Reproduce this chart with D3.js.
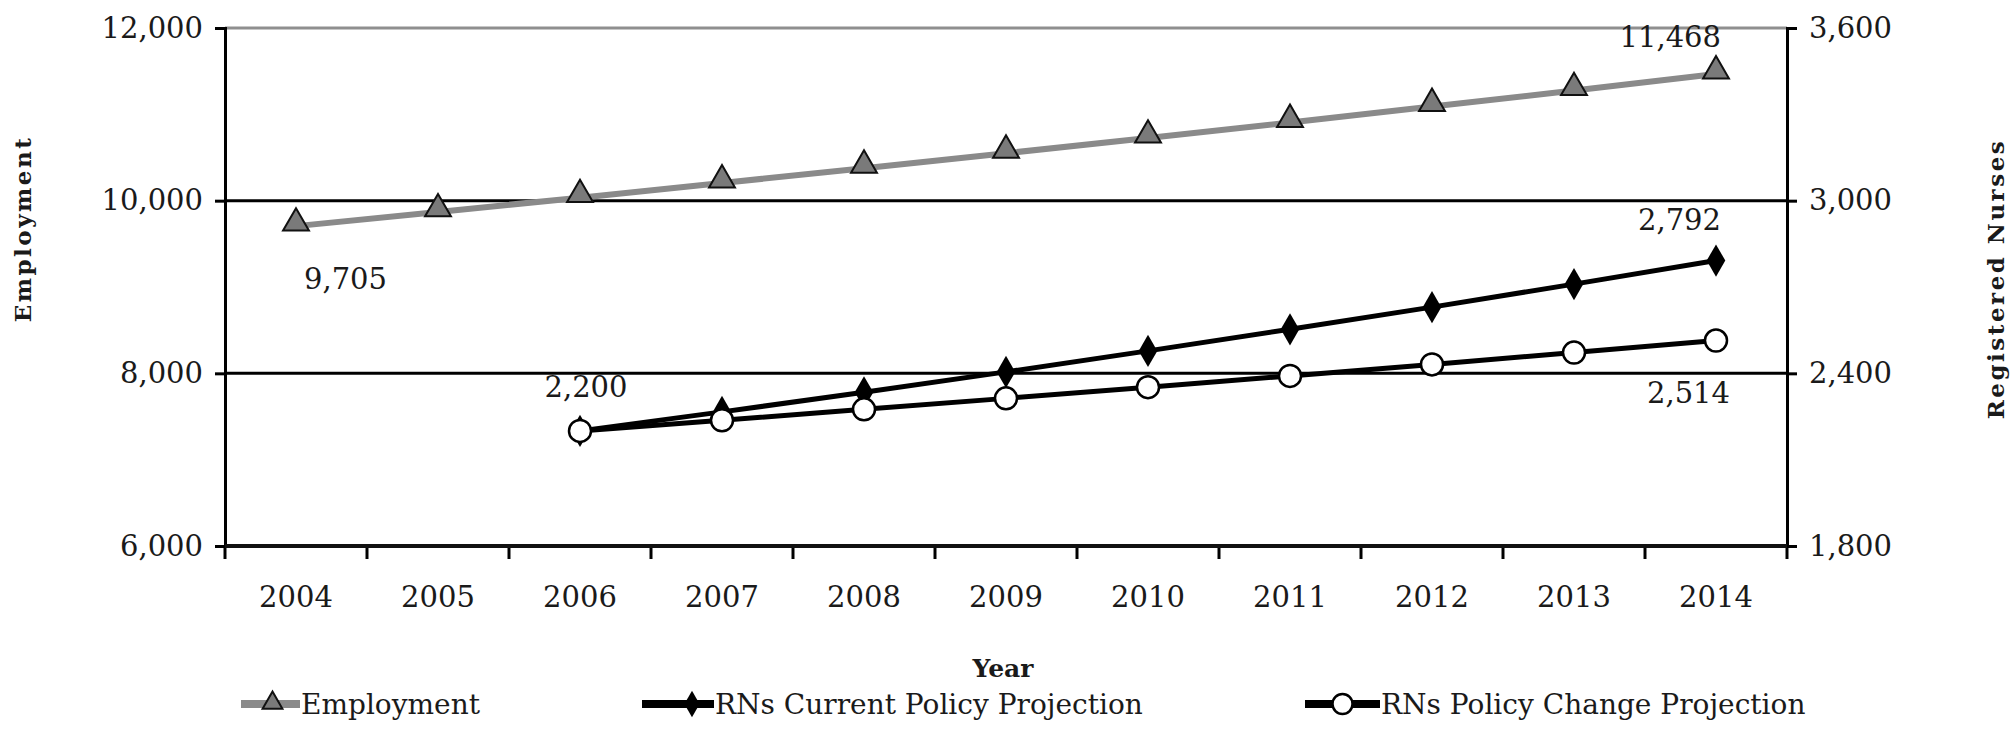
<!DOCTYPE html>
<html>
<head>
<meta charset="utf-8">
<script src="https://cdn.jsdelivr.net/npm/d3@7"></script>
<style>
  html, body { margin: 0; padding: 0; background: #fff; }
  svg { display: block; }
  text { font-family: "DejaVu Serif", serif; fill: #1a1a1a; }
</style>
</head>
<body>
<svg id="chart" width="2012" height="755"></svg>
<script>
// Years on the category axis
const years = ["2004","2005","2006","2007","2008","2009","2010","2011","2012","2013","2014"];

// Total employment (left axis)
const employment = [9705, 9870, 10035, 10205, 10375, 10550, 10725, 10905, 11090, 11275, 11468];

// Registered nurse projections (right axis), starting in 2006
const rnYears = ["2006","2007","2008","2009","2010","2011","2012","2013","2014"];
const rnCurrent = [2200, 2266, 2334, 2405, 2478, 2553, 2630, 2710, 2792];
const rnChange  = [2200, 2237, 2275, 2313, 2352, 2391, 2431, 2472, 2514];

// Axis ticks
const leftTicks  = [6000, 8000, 10000, 12000];
const rightTicks = [1800, 2400, 3000, 3600];

const svg = d3.select("#chart");
const fmt = d3.format(",");
const TICK_FONT = 29;

const plot = { left: 225, right: 1787, top: 28, bottom: 546 };

const x = d3.scaleBand().domain(years).range([plot.left, plot.right]).padding(0);
const yL = d3.scaleLinear().domain([6000, 12000]).range([plot.bottom, plot.top]);
const yR = d3.scaleLinear().domain([1800, 3600]).range([plot.bottom, plot.top]);
const cx = d => x(d) + x.bandwidth() / 2;

// Horizontal gridlines
const grid = svg.append("g");
grid.selectAll("line.g")
  .data([8000, 10000])
  .join("line")
  .attr("x1", plot.left).attr("x2", plot.right)
  .attr("y1", d => yL(d)).attr("y2", d => yL(d))
  .attr("stroke", "#000").attr("stroke-width", 3);
// top border
grid.append("line")
  .attr("x1", plot.left).attr("x2", plot.right)
  .attr("y1", yL(12000)).attr("y2", yL(12000))
  .attr("stroke", "#8f8f8f").attr("stroke-width", 3);

// Left axis
const axL = svg.append("g")
  .attr("transform", `translate(${plot.left},0)`)
  .call(d3.axisLeft(yL).tickValues(leftTicks).tickFormat(fmt).tickSize(10).tickPadding(12));
axL.select(".domain").attr("stroke", "#000").attr("stroke-width", 3);
axL.selectAll(".tick line").attr("stroke", "#000").attr("stroke-width", 3);
axL.selectAll(".tick text").attr("font-size", TICK_FONT).attr("fill", "#1a1a1a")
  .style("font-family", "DejaVu Serif");

// Right axis
const axR = svg.append("g")
  .attr("transform", `translate(${plot.right},0)`)
  .call(d3.axisRight(yR).tickValues(rightTicks).tickFormat(fmt).tickSize(10).tickPadding(12));
axR.select(".domain").attr("stroke", "#000").attr("stroke-width", 3);
axR.selectAll(".tick line").attr("stroke", "#000").attr("stroke-width", 3);
axR.selectAll(".tick text").attr("font-size", TICK_FONT).attr("fill", "#1a1a1a")
  .style("font-family", "DejaVu Serif");

// Bottom axis: labels at band centres, ticks at band edges
const axB = svg.append("g")
  .attr("transform", `translate(0,${plot.bottom})`)
  .call(d3.axisBottom(x).tickSize(0).tickPadding(40));
axB.select(".domain").remove();
axB.selectAll(".tick text").attr("font-size", TICK_FONT).attr("fill", "#1a1a1a")
  .style("font-family", "DejaVu Serif");
const edges = years.map(d => x(d)).concat([x(years[years.length - 1]) + x.bandwidth()]);
svg.append("g").selectAll("line")
  .data(edges)
  .join("line")
  .attr("x1", d => d).attr("x2", d => d)
  .attr("y1", plot.bottom).attr("y2", plot.bottom + 13)
  .attr("stroke", "#000").attr("stroke-width", 3);
svg.append("line")
  .attr("x1", plot.left).attr("x2", plot.right)
  .attr("y1", plot.bottom).attr("y2", plot.bottom)
  .attr("stroke", "#111").attr("stroke-width", 4);

// Series lines
const empData = years.map((d, i) => ({ year: d, v: employment[i] }));
const curData = rnYears.map((d, i) => ({ year: d, v: rnCurrent[i] }));
const chgData = rnYears.map((d, i) => ({ year: d, v: rnChange[i] }));

svg.append("path")
  .datum(empData)
  .attr("fill", "none").attr("stroke", "#8a8a8a").attr("stroke-width", 6)
  .attr("d", d3.line().x(d => cx(d.year)).y(d => yL(d.v)));

svg.append("path")
  .datum(curData)
  .attr("fill", "none").attr("stroke", "#000").attr("stroke-width", 5)
  .attr("d", d3.line().x(d => cx(d.year)).y(d => yR(d.v)));

svg.append("path")
  .datum(chgData)
  .attr("fill", "none").attr("stroke", "#000").attr("stroke-width", 5)
  .attr("d", d3.line().x(d => cx(d.year)).y(d => yR(d.v)));

// Markers
const tri = d3.symbol(d3.symbolTriangle, 290);
const dia = d3.symbol(d3.symbolDiamond, 300);

svg.append("g").selectAll("path")
  .data(empData)
  .join("path")
  .attr("d", tri)
  .attr("transform", d => `translate(${cx(d.year)},${yL(d.v) - 3})`)
  .attr("fill", "#7a7a7a").attr("stroke", "#111").attr("stroke-width", 2);

svg.append("g").selectAll("path")
  .data(curData)
  .join("path")
  .attr("d", dia)
  .attr("transform", d => `translate(${cx(d.year)},${yR(d.v)})`)
  .attr("fill", "#000");

svg.append("g").selectAll("circle")
  .data(chgData)
  .join("circle")
  .attr("cx", d => cx(d.year)).attr("cy", d => yR(d.v)).attr("r", 11)
  .attr("fill", "#fff").attr("stroke", "#000").attr("stroke-width", 2.5);

// Data labels
const labels = [
  { text: fmt(employment[0]), x: cx(years[0]) + 8, y: yL(employment[0]) + 63, anchor: "start" },
  { text: fmt(employment[10]), x: cx(years[10]) + 5, y: yL(employment[10]) - 27, anchor: "end" },
  { text: fmt(rnCurrent[0]), x: cx(rnYears[0]) + 6, y: yR(rnCurrent[0]) - 34, anchor: "middle" },
  { text: fmt(rnCurrent[8]), x: cx(rnYears[8]) + 5, y: yR(rnCurrent[8]) - 31, anchor: "end" },
  { text: fmt(rnChange[8]), x: cx(rnYears[8]) + 14, y: yR(rnChange[8]) + 62, anchor: "end" }
];
svg.append("g").selectAll("text")
  .data(labels)
  .join("text")
  .attr("x", d => d.x).attr("y", d => d.y)
  .attr("text-anchor", d => d.anchor)
  .attr("font-size", TICK_FONT)
  .text(d => d.text);

// Axis titles
svg.append("text")
  .attr("transform", `translate(31,229) rotate(-90)`)
  .attr("text-anchor", "middle")
  .attr("font-size", 23).attr("font-weight", "bold").attr("letter-spacing", 2.5)
  .text("Employment");
svg.append("text")
  .attr("transform", `translate(2004,279) rotate(-90)`)
  .attr("text-anchor", "middle")
  .attr("font-size", 23).attr("font-weight", "bold").attr("letter-spacing", 2.5)
  .text("Registered Nurses");
svg.append("text")
  .attr("x", 1003).attr("y", 677)
  .attr("text-anchor", "middle")
  .attr("font-size", 25).attr("font-weight", "bold")
  .text("Year");

// Legend
const legendY = 704;
const legend = svg.append("g");
const items = [
  { label: "Employment", x0: 241, x1: 300, color: "#8a8a8a", w: 8, mark: "tri" },
  { label: "RNs Current Policy Projection", x0: 642, x1: 714, color: "#000", w: 8, mark: "dia" },
  { label: "RNs Policy Change Projection", x0: 1305, x1: 1380, color: "#000", w: 8, mark: "circ" }
];
items.forEach(it => {
  const g = legend.append("g");
  g.append("line")
    .attr("x1", it.x0).attr("x2", it.x1)
    .attr("y1", legendY).attr("y2", legendY)
    .attr("stroke", it.color).attr("stroke-width", it.w);
  const mx = (it.x0 + it.x1) / 2 + (it.mark === "tri" ? 2 : (it.mark === "dia" ? 14 : 0));
  if (it.mark === "tri") {
    g.append("path").attr("d", d3.symbol(d3.symbolTriangle, 170))
      .attr("transform", `translate(${mx},${legendY - 1})`)
      .attr("fill", "#7a7a7a").attr("stroke", "#111").attr("stroke-width", 2);
  } else if (it.mark === "dia") {
    g.append("path").attr("d", d3.symbol(d3.symbolDiamond, 200))
      .attr("transform", `translate(${mx},${legendY})`)
      .attr("fill", "#000");
  } else {
    g.append("circle").attr("cx", mx).attr("cy", legendY).attr("r", 10)
      .attr("fill", "#fff").attr("stroke", "#000").attr("stroke-width", 2.5);
  }
  g.append("text")
    .attr("x", it.x1 + 1).attr("y", legendY + 10)
    .attr("font-size", 28)
    .text(it.label);
});
</script>
</body>
</html>
